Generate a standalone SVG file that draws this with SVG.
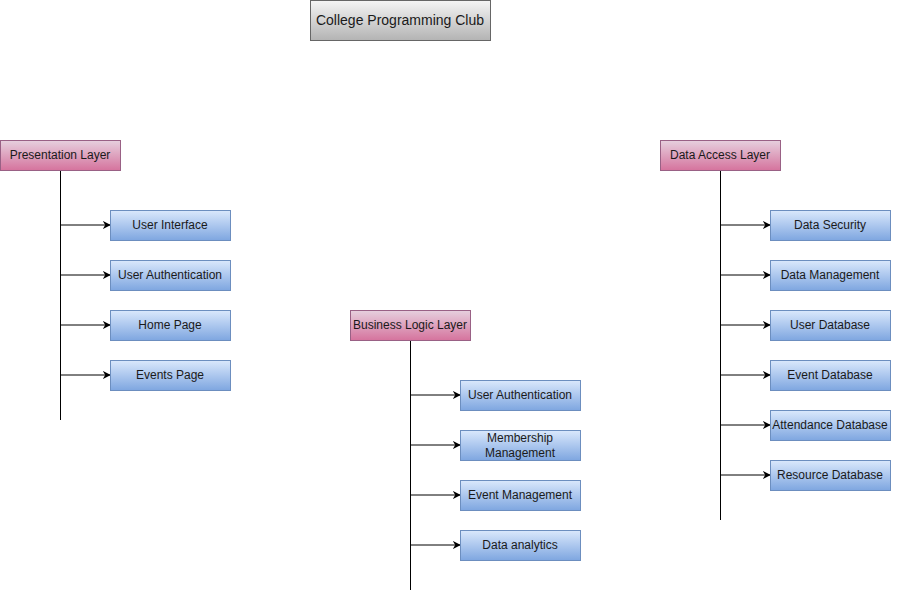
<svg xmlns="http://www.w3.org/2000/svg" width="911" height="592" viewBox="0 0 911 592">
<defs>
<linearGradient id="gGray" x1="0" y1="0" x2="0" y2="1"><stop offset="0" stop-color="#f5f5f5"/><stop offset="1" stop-color="#b3b3b3"/></linearGradient>
<linearGradient id="gPink" x1="0" y1="0" x2="0" y2="1"><stop offset="0" stop-color="#e6d0de"/><stop offset="1" stop-color="#d5739d"/></linearGradient>
<linearGradient id="gBlue" x1="0" y1="0" x2="0" y2="1"><stop offset="0" stop-color="#dae8fc"/><stop offset="1" stop-color="#7ea6e0"/></linearGradient>
<marker id="arr" viewBox="0 0 10 10" refX="9" refY="5" markerWidth="8" markerHeight="8" markerUnits="userSpaceOnUse" orient="auto"><path d="M0,0 L10,5 L0,10 L3,5 Z" fill="#000"/></marker>
</defs>
<style>
text{font-family:"Liberation Sans",Arial,sans-serif;font-size:12px;fill:#1a1a1a;text-anchor:middle;dominant-baseline:central}
.title rect{fill:url(#gGray);stroke:#666666}
.title text{font-size:14px}
.layer rect{fill:url(#gPink);stroke:#996185}
.item rect{fill:url(#gBlue);stroke:#6c8ebf}
.spine{stroke:#000;stroke-width:1;fill:none}
.arrow{stroke:#000;stroke-width:1;fill:none;marker-end:url(#arr)}
</style>
<rect width="911" height="592" fill="#ffffff"/>
<g id="connectors">
<line class="spine" x1="60.5" y1="170" x2="60.5" y2="420"/>
<line class="spine" x1="410.5" y1="340" x2="410.5" y2="590"/>
<line class="spine" x1="720.5" y1="170" x2="720.5" y2="520"/>
<line class="arrow" x1="61" y1="225" x2="110" y2="225"/>
<line class="arrow" x1="61" y1="275" x2="110" y2="275"/>
<line class="arrow" x1="61" y1="325" x2="110" y2="325"/>
<line class="arrow" x1="61" y1="375" x2="110" y2="375"/>
<line class="arrow" x1="411" y1="395" x2="460" y2="395"/>
<line class="arrow" x1="411" y1="445" x2="460" y2="445"/>
<line class="arrow" x1="411" y1="495" x2="460" y2="495"/>
<line class="arrow" x1="411" y1="545" x2="460" y2="545"/>
<line class="arrow" x1="721" y1="225" x2="770" y2="225"/>
<line class="arrow" x1="721" y1="275" x2="770" y2="275"/>
<line class="arrow" x1="721" y1="325" x2="770" y2="325"/>
<line class="arrow" x1="721" y1="375" x2="770" y2="375"/>
<line class="arrow" x1="721" y1="425" x2="770" y2="425"/>
<line class="arrow" x1="721" y1="475" x2="770" y2="475"/>
</g>
<g id="title" class="title"><rect x="310.5" y="0.5" width="180" height="40"/><text x="400" y="20">College Programming Club</text></g>
<g id="presentation" class="layer"><rect x="0.5" y="140.5" width="120" height="30"/><text x="60" y="155">Presentation Layer</text></g>
<g id="business" class="layer"><rect x="350.5" y="310.5" width="120" height="30"/><text x="410" y="325">Business Logic Layer</text></g>
<g id="dataaccess" class="layer"><rect x="660.5" y="140.5" width="120" height="30"/><text x="720" y="155">Data Access Layer</text></g>
<g id="p1" class="item"><rect x="110.5" y="210.5" width="120" height="30"/><text x="170" y="225">User Interface</text></g>
<g id="p2" class="item"><rect x="110.5" y="260.5" width="120" height="30"/><text x="170" y="275">User Authentication</text></g>
<g id="p3" class="item"><rect x="110.5" y="310.5" width="120" height="30"/><text x="170" y="325">Home Page</text></g>
<g id="p4" class="item"><rect x="110.5" y="360.5" width="120" height="30"/><text x="170" y="375">Events Page</text></g>
<g id="b1" class="item"><rect x="460.5" y="380.5" width="120" height="30"/><text x="520" y="395">User Authentication</text></g>
<g id="b2" class="item"><rect x="460.5" y="430.5" width="120" height="30"/><text x="520" y="438">Membership</text><text x="520" y="453">Management</text></g>
<g id="b3" class="item"><rect x="460.5" y="480.5" width="120" height="30"/><text x="520" y="495">Event Management</text></g>
<g id="b4" class="item"><rect x="460.5" y="530.5" width="120" height="30"/><text x="520" y="545">Data analytics</text></g>
<g id="d1" class="item"><rect x="770.5" y="210.5" width="120" height="30"/><text x="830" y="225">Data Security</text></g>
<g id="d2" class="item"><rect x="770.5" y="260.5" width="120" height="30"/><text x="830" y="275">Data Management</text></g>
<g id="d3" class="item"><rect x="770.5" y="310.5" width="120" height="30"/><text x="830" y="325">User Database</text></g>
<g id="d4" class="item"><rect x="770.5" y="360.5" width="120" height="30"/><text x="830" y="375">Event Database</text></g>
<g id="d5" class="item"><rect x="770.5" y="410.5" width="120" height="30"/><text x="830" y="425">Attendance Database</text></g>
<g id="d6" class="item"><rect x="770.5" y="460.5" width="120" height="30"/><text x="830" y="475">Resource Database</text></g>
</svg>
